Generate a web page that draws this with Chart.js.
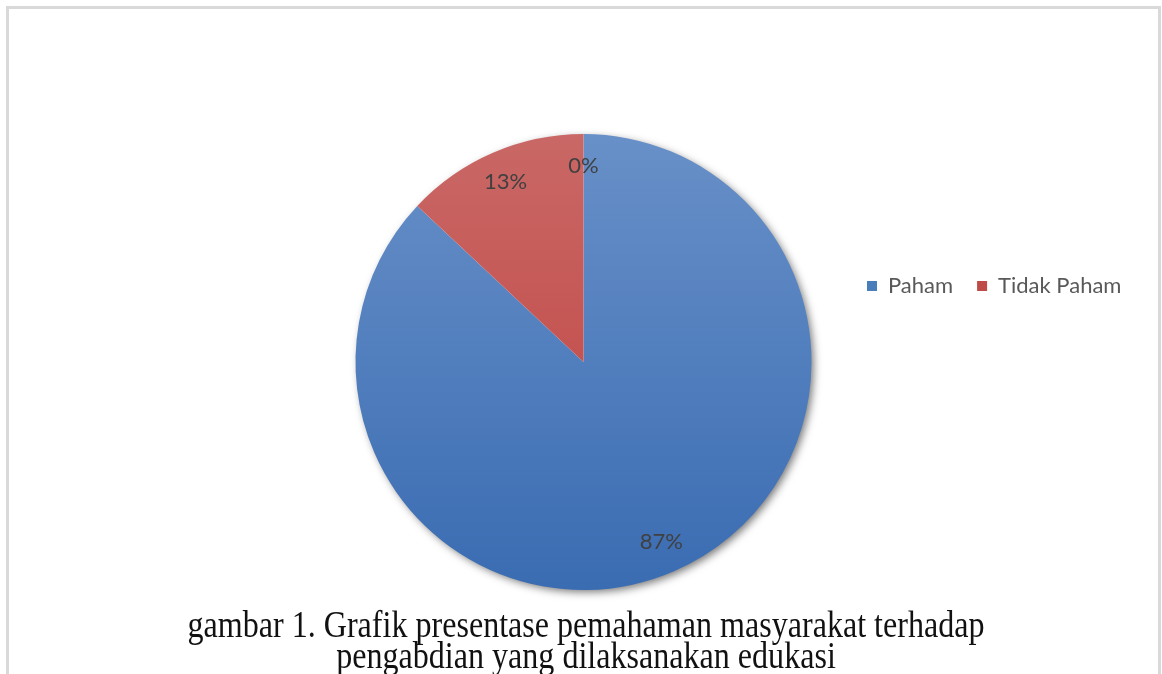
<!DOCTYPE html>
<html>
<head>
<meta charset="utf-8">
<script src="https://cdn.jsdelivr.net/npm/chart.js@4"></script>
<style>
  html, body { margin: 0; padding: 0; background: #fff; overflow: hidden; }
  .frame {
    position: absolute; left: 6px; top: 6px; width: 1149px; height: 720px;
    border: 3px solid #d9d9d9; border-bottom: none;
  }
  .wrap { position: absolute; left: 0; top: 0; width: 1162px; height: 674px; }
</style>
</head>
<body>
<div class="frame"></div>
<div class="wrap"><canvas class="pie"></canvas></div>
<script>
// Data to pie-chart
const categories = ['Paham', 'Tidak Paham', ''];
const percentValues = [87, 13, 0];
const captionLines = [
    'gambar 1. Grafik presentase pemahaman masyarakat terhadap',
    'pengabdian yang dilaksanakan edukasi'
];

// top / bottom colours of each slice gradient, plus legend swatch
const sliceTop = ['#6890c8', '#c96866', '#a0a0a0'];
const sliceBottom = ['#3a6cb2', '#bf3f3c', '#808080'];
const swatch = ['#4a7ebb', '#be4b48', '#999999'];

function sliceFill(context) {
    const chart = context.chart;
    const area = chart.chartArea;
    if (!area) return sliceTop[context.dataIndex];
    const g = chart.ctx.createLinearGradient(0, area.top, 0, area.bottom);
    g.addColorStop(0, sliceTop[context.dataIndex]);
    g.addColorStop(1, sliceBottom[context.dataIndex]);
    return g;
}

// soft shadow under the pie
const pieShadow = {
    id: 'pieShadow',
    beforeDatasetsDraw(chart) {
        const arc = chart.getDatasetMeta(0).data[0];
        if (!arc) return;
        const ctx = chart.ctx;
        ctx.save();
        ctx.shadowColor = 'rgba(0,0,0,0.55)';
        ctx.shadowBlur = 9;
        ctx.shadowOffsetX = 3;
        ctx.shadowOffsetY = 3;
        ctx.fillStyle = '#ffffff';
        ctx.beginPath();
        ctx.arc(arc.x, arc.y, arc.outerRadius - 1, 0, Math.PI * 2);
        ctx.fill();
        ctx.restore();
    }
};

// percentage labels inside the slices
const sliceLabels = {
    id: 'sliceLabels',
    afterDatasetsDraw(chart) {
        const ctx = chart.ctx;
        const meta = chart.getDatasetMeta(0);
        const data = chart.data.datasets[0].data;
        const total = data.reduce((a, b) => a + b, 0);
        ctx.save();
        ctx.font = '22px Lato';
        ctx.fillStyle = '#404040';
        ctx.textAlign = 'center';
        ctx.textBaseline = 'middle';
        meta.data.forEach((arc, i) => {
            const mid = (arc.startAngle + arc.endAngle) / 2;
            const r = arc.outerRadius * 0.86;
            const x = arc.x + Math.cos(mid) * r;
            const y = arc.y + Math.sin(mid) * r;
            ctx.fillText(Math.round(data[i] / total * 100) + '%', x, y);
        });
        ctx.restore();
    }
};

// horizontal legend at the right side
const sideLegend = {
    id: 'sideLegend',
    afterDraw(chart) {
        const ctx = chart.ctx;
        let x = 867;
        const y = 286;
        ctx.save();
        ctx.font = '22px Lato';
        ctx.textBaseline = 'middle';
        chart.data.labels.forEach((label, i) => {
            if (!label) return;
            ctx.fillStyle = swatch[i];
            ctx.fillRect(x, y - 5, 10, 10);
            ctx.fillStyle = '#595959';
            ctx.fillText(label, x + 21, y);
            x += 21 + ctx.measureText(label).width + 24;
        });
        ctx.restore();
    }
};

// figure caption under the pie (serif, narrow)
const caption = {
    id: 'caption',
    afterDraw(chart) {
        const ctx = chart.ctx;
        ctx.save();
        ctx.font = '37px "Liberation Serif"';
        ctx.fillStyle = '#111111';
        ctx.textAlign = 'center';
        ctx.textBaseline = 'alphabetic';
        const w = ctx.measureText(captionLines[0]).width;
        const sx = 797 / w;
        const baselines = [637, 668];
        captionLines.forEach((line, i) => {
            ctx.save();
            ctx.translate(586, baselines[i]);
            ctx.scale(sx, 1);
            ctx.fillText(line, 0, 0);
            ctx.restore();
        });
        ctx.restore();
    }
};

const ctx = document.querySelector('.pie').getContext('2d');

const pieChart = new Chart(ctx, {
    type: 'pie',
    data: {
        labels: categories,
        datasets: [{
            data: percentValues,
            backgroundColor: sliceFill,
            borderWidth: 0
        }]
    },
    options: {
        responsive: true,
        maintainAspectRatio: false,
        animation: false,
        layout: {
            padding: { top: 134, bottom: 84, left: 355, right: 350 }
        },
        plugins: {
            legend: { display: false },
            tooltip: { enabled: false }
        }
    },
    plugins: [pieShadow, sliceLabels, sideLegend, caption]
});
</script>
</body>
</html>
